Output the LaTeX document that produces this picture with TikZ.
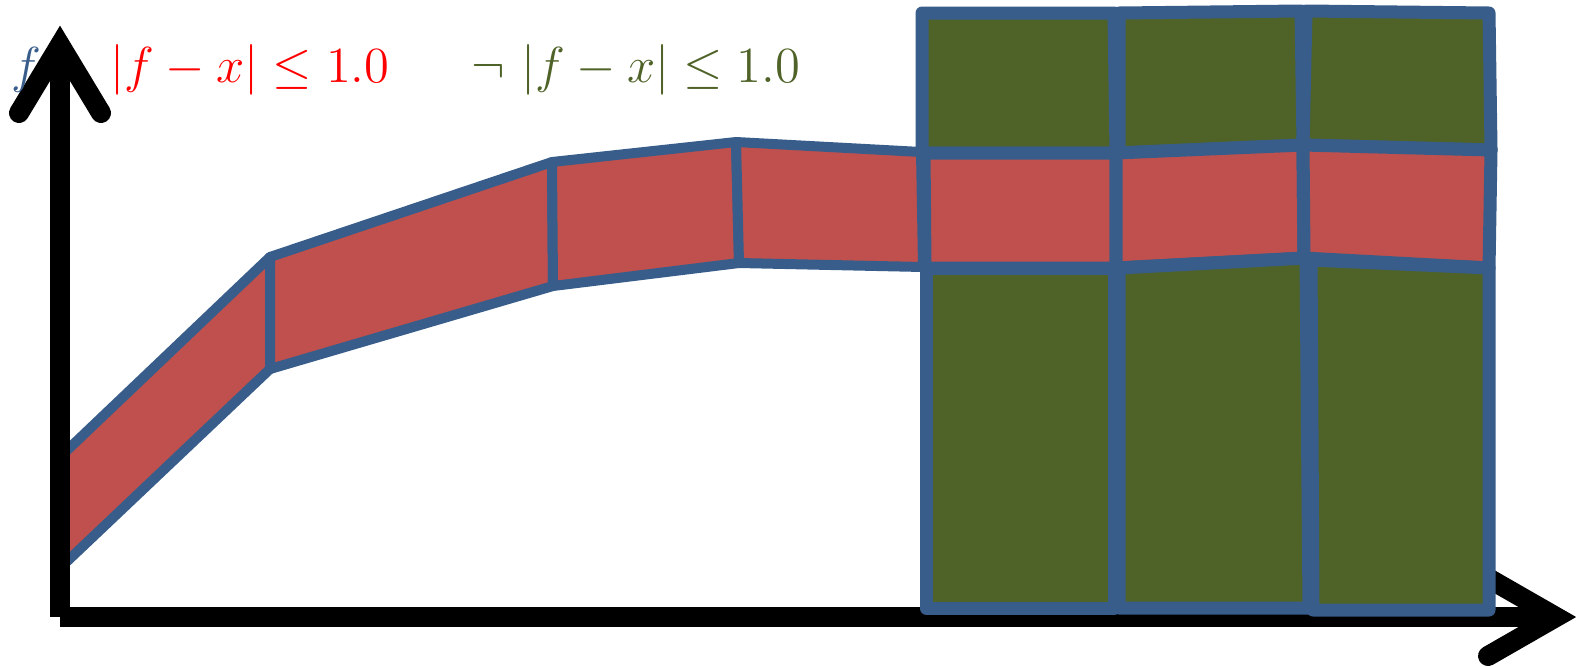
\documentclass[tikz,border=0pt]{standalone}
\usepackage{tikz}
\usepackage{amsmath}
\usepackage{amssymb}
\usetikzlibrary{positioning}
\definecolor{edgeblue}{HTML}{385D8A}
\definecolor{bandred}{HTML}{C0504D}
\definecolor{cellgreen}{HTML}{4F6228}
\begin{document}
\begin{tikzpicture}[
        x=0.1mm, y=-0.1mm,
        band/.style={fill=bandred, draw=edgeblue, line width=1mm, line join=round},
        gridband/.style={band, line width=1.3mm},
        cell/.style={fill=cellgreen, draw=edgeblue, line width=1.3mm, line join=round},
        axis/.style={line width=2mm, black},
        tip/.style={line width=2mm, black, line cap=round, line join=miter},
        lbl/.style={font=\fontsize{14}{16}\selectfont, inner sep=0pt}
    ]
    \useasboundingbox (0,0) rectangle (1576,666);

    % the band around f
    \draw[band] (60,457) -- (270,257) -- (270,369) -- (60,568) -- cycle;
    \draw[band] (270,257) -- (552,162) -- (553,286) -- (270,369) -- cycle;
    \draw[band] (552,162) -- (736,142) -- (739,263) -- (553,286) -- cycle;
    \draw[band] (736,142) -- (921,152) -- (923,267) -- (739,263) -- cycle;

    % axes
    \draw[axis] (60,617) -- (60,45);
    \draw[axis] (60,617) -- (1556,617);
    \draw[tip] (19,113) -- (60,45) -- (101,113);
    \draw[tip] (1488,578) -- (1556,617) -- (1488,656);

    % grid: upper cells, band cells, lower cells
    \draw[cell] (922,13) -- (1114,13) -- (1116,153) -- (922,153) -- cycle;
    \draw[cell] (1119,13) -- (1301,11) -- (1303,145) -- (1119,153) -- cycle;
    \draw[cell] (1306,11) -- (1489,13) -- (1491,150) -- (1303,145) -- cycle;
    \draw[gridband] (924,153) -- (1116,153) -- (1116,268) -- (925,268) -- cycle;
    \draw[gridband] (1116,153) -- (1303,145) -- (1304,258) -- (1116,268) -- cycle;
    \draw[gridband] (1303,145) -- (1491,150) -- (1489,268) -- (1304,258) -- cycle;
    \draw[cell] (926,268) -- (1114,268) -- (1114,608) -- (926,608) -- cycle;
    \draw[cell] (1119,268) -- (1306,258) -- (1309,608) -- (1119,608) -- cycle;
    \draw[cell] (1311,260) -- (1489,268) -- (1489,610) -- (1313,610) -- cycle;

    % labels
    \node[lbl, text=edgeblue] (flabel) at (26,70) {$f$};
    \node[lbl, text=red] (inside) at (250,70) {$|f - x| \leq 1.0$};
    \node[lbl, text=cellgreen] (outside) at (636,70) {$\neg\ |f - x| \leq 1.0$};
\end{tikzpicture}
\end{document}
